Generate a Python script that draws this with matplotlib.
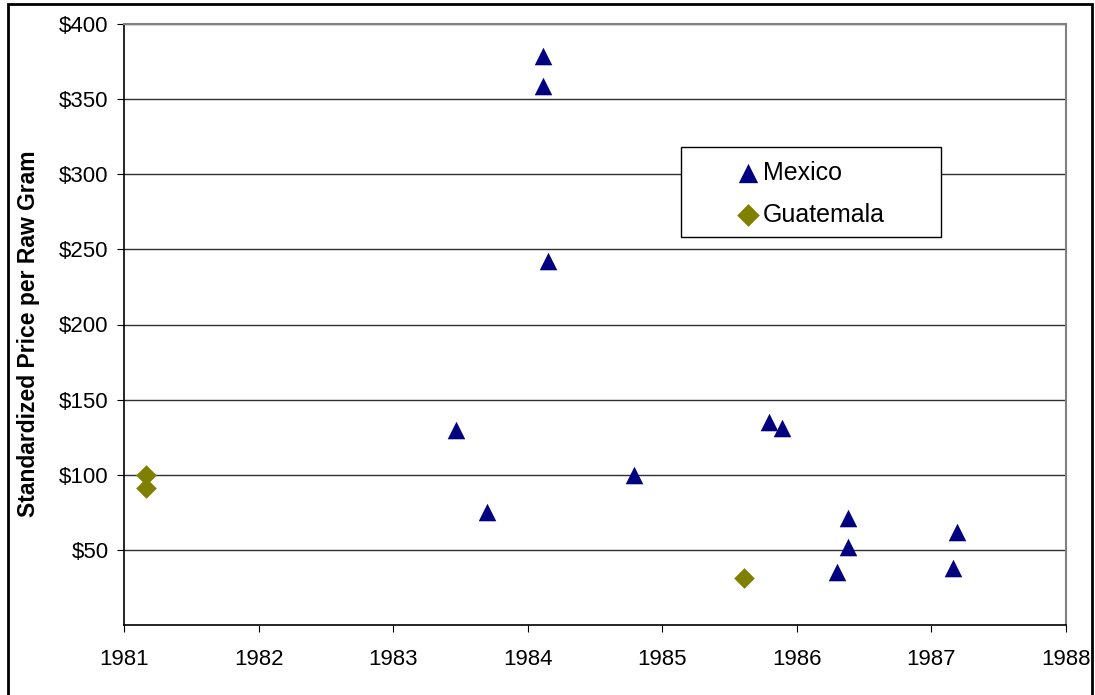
import matplotlib
matplotlib.use('Agg')
import matplotlib.pyplot as plt
from matplotlib.patches import Rectangle
from matplotlib.ticker import FuncFormatter

plt.rcParams['font.family'] = ['Liberation Sans', 'DejaVu Sans']

# data
mexico_year = [1984.11, 1984.11, 1984.15, 1983.47, 1983.70, 1984.79, 1985.79,
               1985.89, 1986.38, 1986.38, 1986.30, 1987.19, 1987.16]
mexico_price = [379, 359, 242, 130, 75, 100, 135, 131, 71, 52, 35, 62, 38]
guatemala_year = [1981.16, 1981.16, 1985.61]
guatemala_price = [100, 91, 31]

year_ticks = list(range(1981, 1989))
price_ticks = [50, 100, 150, 200, 250, 300, 350, 400]

fig = plt.figure(figsize=(10.95, 6.95), dpi=100)
ax = fig.add_axes([124 / 1095, 70 / 695, 942 / 1095, 601 / 695])

ax.scatter(mexico_year, mexico_price, marker='^', s=160, color='#000080',
           linewidths=0, label='Mexico', zorder=3)
ax.scatter(guatemala_year, guatemala_price, marker='D', s=110, color='#808000',
           linewidths=0, label='Guatemala', zorder=3)

ax.set_xlim(1981, 1988)
ax.set_ylim(0, 400)
ax.set_xticks(year_ticks)
ax.set_yticks(price_ticks)
ax.yaxis.set_major_formatter(FuncFormatter(lambda v, p: '${:d}'.format(int(v))))
ax.grid(axis='y', color='#303030', linewidth=1)
ax.set_axisbelow(True)
ax.tick_params(axis='both', labelsize=16, length=5, direction='out', color='black')
ax.tick_params(axis='x', pad=12)
ax.tick_params(axis='y', pad=6)

for side in ['top', 'right']:
    ax.spines[side].set_color('#808080')
    ax.spines[side].set_linewidth(1.5)
for side in ['left', 'bottom']:
    ax.spines[side].set_color('black')
    ax.spines[side].set_linewidth(1.2)

ax.set_ylabel('Standardized Price per Raw Gram', fontsize=16.5, fontweight='bold')
ax.yaxis.set_label_coords(-0.089, 0.484)

# legend box drawn separately so the padding matches the reference
ax.add_patch(Rectangle((0.5913, 0.6456), 0.276, 0.1498, transform=ax.transAxes,
                       facecolor='white', edgecolor='black', linewidth=1.0,
                       zorder=4))
leg = ax.legend(loc='upper left', bbox_to_anchor=(0.649, 0.772), fontsize=18,
                frameon=False, borderpad=0, handletextpad=0.1, labelspacing=0.7,
                borderaxespad=0, handlelength=1.0, scatterpoints=1,
                markerscale=1.1)
leg.set_zorder(5)

# outer frame around the whole figure
fig.patches.append(Rectangle((8 / 1095, -0.01), 1084 / 1095, 1 - 4 / 695 + 0.01,
                             transform=fig.transFigure, fill=False,
                             edgecolor='black', linewidth=2))

fig.savefig('out.png', dpi=100, facecolor='white')
